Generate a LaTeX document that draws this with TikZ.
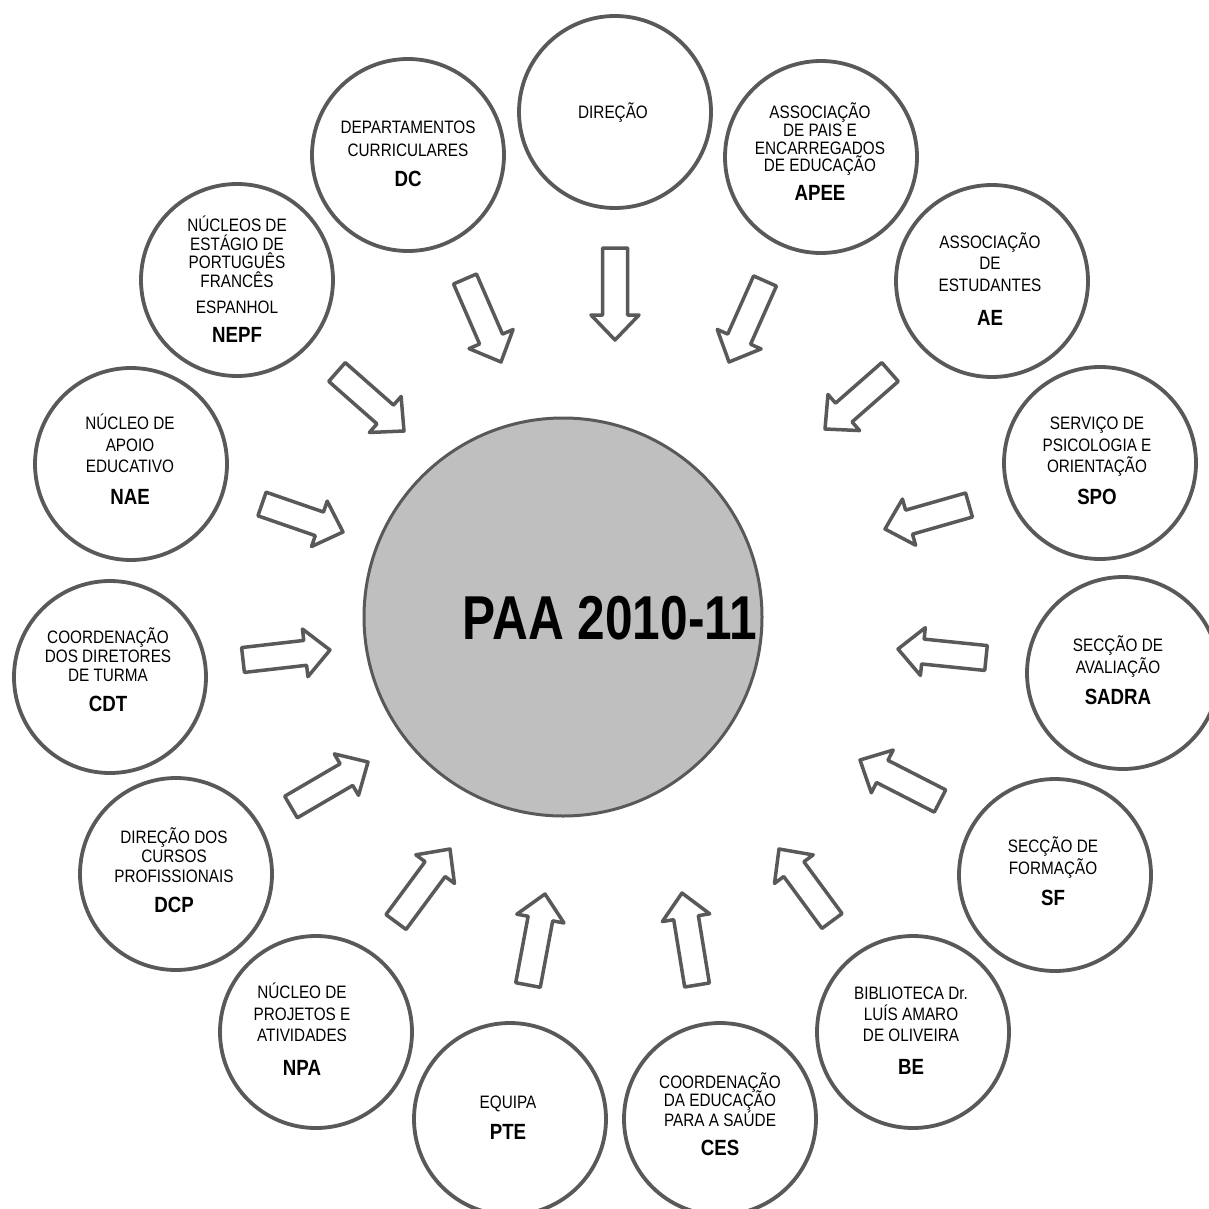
\documentclass[tikz,border=0pt]{standalone}
\usepackage{fontspec}
\setmainfont{Liberation Sans}
\newfontfamily\nf[FakeStretch=0.85]{Liberation Sans}
\newfontfamily\tf[FakeStretch=0.8]{Liberation Sans}
\usetikzlibrary{calc}
\definecolor{linegray}{HTML}{595959}
\definecolor{centergray}{HTML}{BFBFBF}
\tikzset{
  org/.style={circle, draw=linegray, line width=3.8pt, fill=white, minimum size=192pt, inner sep=0pt},
  ln/.style={font=\nf\fontsize{18}{18}\selectfont, inner sep=0pt, text height=12.9pt, text depth=0pt, anchor=center},
  ab/.style={font=\nf\bfseries\fontsize{22}{22}\selectfont, inner sep=0pt, text height=15.8pt, text depth=0pt, anchor=center},
  blk/.style={draw=linegray, line width=3.5pt, fill=white, line join=round}
}
\newcommand\blkarrow[2]{%
  \coordinate (#2n) at ($(#2)!25pt!(#1)$);
  \draw[blk] ($(#1)!12.5pt!90:(#2)$) -- ($(#2n)!12.5pt!90:(#2)$) -- ($(#2n)!24pt!90:(#2)$) -- (#2)
     -- ($(#2n)!24pt!-90:(#2)$) -- ($(#2n)!12.5pt!-90:(#2)$) -- ($(#1)!12.5pt!-90:(#2)$) -- cycle;}
\begin{document}
\begin{tikzpicture}[x=1pt,y=-1pt]
\useasboundingbox (0,0) rectangle (1209,1209);
\fill[white] (0,0) rectangle (1209,1209);
\clip (0,0) rectangle (1209,1209);

% central circle
\node[circle, draw=linegray, line width=3pt, fill=centergray, minimum size=398pt, inner sep=0pt] (paa) at (563,617) {};
\node[font=\tf\bfseries\fontsize{62}{62}\selectfont, inner sep=0pt, text height=44.5pt, text depth=0pt] (paaT) at (610,617) {PAA 2010-11};

% outer circles
\node[org] (dirC) at (615,112) {};
\node[org] (dcC) at (408,155) {};
\node[org] (apeeC) at (821,157) {};
\node[org] (aeC) at (992,281) {};
\node[org] (spoC) at (1100,463) {};
\node[org] (sadraC) at (1123,673) {};
\node[org] (sfC) at (1055,875) {};
\node[org] (beC) at (913,1032) {};
\node[org] (cesC) at (720,1119) {};
\node[org] (pteC) at (510,1119) {};
\node[org] (npaC) at (316,1032) {};
\node[org] (dcpC) at (176,874) {};
\node[org] (cdtC) at (110,677) {};
\node[org] (naeC) at (131,464) {};
\node[org] (nepfC) at (237,280) {};

% texts
\node[ln] (dir1) at (613,112) {DIREÇÃO};

\node[ln] (dc1) at (408,127) {DEPARTAMENTOS};
\node[ln] (dc2) at (408,150) {CURRICULARES};
\node[ab] (dcA) at (408,179) {DC};

\node[ln] (apee1) at (820,112) {ASSOCIAÇÃO};
\node[ln] (apee2) at (820,130) {DE PAIS E};
\node[ln] (apee3) at (820,148) {ENCARREGADOS};
\node[ln] (apee4) at (820,165) {DE EDUCAÇÃO};
\node[ab] (apeeA) at (820,193) {APEE};

\node[ln] (ae1) at (990,242) {ASSOCIAÇÃO};
\node[ln] (ae2) at (990,263) {DE};
\node[ln] (ae3) at (990,285) {ESTUDANTES};
\node[ab] (aeA) at (990,318) {AE};

\node[ln] (spo1) at (1097,423) {SERVIÇO DE};
\node[ln] (spo2) at (1097,445) {PSICOLOGIA E};
\node[ln] (spo3) at (1097,466) {ORIENTAÇÃO};
\node[ab] (spoA) at (1097,497) {SPO};

\node[ln] (sadra1) at (1118,645) {SECÇÃO DE};
\node[ln] (sadra2) at (1118,667) {AVALIAÇÃO};
\node[ab] (sadraA) at (1118,697) {SADRA};

\node[ln] (sf1) at (1053,846) {SECÇÃO DE};
\node[ln] (sf2) at (1053,868) {FORMAÇÃO};
\node[ab] (sfA) at (1053,898) {SF};

\node[ln] (be1) at (911,993) {BIBLIOTECA Dr.};
\node[ln] (be2) at (911,1014) {LUÍS AMARO};
\node[ln] (be3) at (911,1035) {DE OLIVEIRA};
\node[ab] (beA) at (911,1067) {BE};

\node[ln] (ces1) at (720,1082) {COORDENAÇÃO};
\node[ln] (ces2) at (720,1100) {DA EDUCAÇÃO};
\node[ln] (ces3) at (720,1120) {PARA A SAÚDE};
\node[ab] (cesA) at (720,1148) {CES};

\node[ln] (pte1) at (508,1102) {EQUIPA};
\node[ab] (pteA) at (508,1132) {PTE};

\node[ln] (npa1) at (302,992) {NÚCLEO DE};
\node[ln] (npa2) at (302,1014) {PROJETOS E};
\node[ln] (npa3) at (302,1035) {ATIVIDADES};
\node[ab] (npaA) at (302,1068) {NPA};

\node[ln] (dcp1) at (174,837) {DIREÇÃO DOS};
\node[ln] (dcp2) at (174,856) {CURSOS};
\node[ln] (dcp3) at (174,876) {PROFISSIONAIS};
\node[ab] (dcpA) at (174,905) {DCP};

\node[ln] (cdt1) at (108,637) {COORDENAÇÃO};
\node[ln] (cdt2) at (108,656) {DOS DIRETORES};
\node[ln] (cdt3) at (108,675) {DE TURMA};
\node[ab] (cdtA) at (108,704) {CDT};

\node[ln] (nae1) at (130,423) {NÚCLEO DE};
\node[ln] (nae2) at (130,445) {APOIO};
\node[ln] (nae3) at (130,466) {EDUCATIVO};
\node[ab] (naeA) at (130,497) {NAE};

\node[ln] (nepf1) at (237,225) {NÚCLEOS DE};
\node[ln] (nepf2) at (237,244) {ESTÁGIO DE};
\node[ln] (nepf3) at (237,262) {PORTUGUÊS};
\node[ln] (nepf4) at (237,281) {FRANCÊS};
\node[ln] (nepf5) at (237,307) {ESPANHOL};
\node[ab] (nepfA) at (237,335) {NEPF};

% arrow end points
\coordinate (dirT) at (615,248);   \coordinate (dirH) at (615,340);
\coordinate (dcT) at (465,279);    \coordinate (dcH) at (501,362);
\coordinate (apeeT) at (765,281);  \coordinate (apeeH) at (729,362);
\coordinate (aeT) at (890,372);    \coordinate (aeH) at (825,429);
\coordinate (spoT) at (969,505);   \coordinate (spoH) at (885,529);
\coordinate (sadraT) at (986,658); \coordinate (sadraH) at (898,649);
\coordinate (sfT) at (940,801);    \coordinate (sfH) at (860,760);
\coordinate (beT) at (832,921);    \coordinate (beH) at (779,849);
\coordinate (cesT) at (697,985);   \coordinate (cesH) at (682,893);
\coordinate (pteT) at (528,985);   \coordinate (pteH) at (545,894);
\coordinate (npaT) at (396,922);   \coordinate (npaH) at (450,849);
\coordinate (dcpT) at (291,807);   \coordinate (dcpH) at (368,762);
\coordinate (cdtT) at (243,660);   \coordinate (cdtH) at (330,650);
\coordinate (naeT) at (262,504);   \coordinate (naeH) at (343,532);
\coordinate (nepfT) at (337,372);  \coordinate (nepfH) at (404,431);

\blkarrow{dirT}{dirH}
\blkarrow{dcT}{dcH}
\blkarrow{apeeT}{apeeH}
\blkarrow{aeT}{aeH}
\blkarrow{spoT}{spoH}
\blkarrow{sadraT}{sadraH}
\blkarrow{sfT}{sfH}
\blkarrow{beT}{beH}
\blkarrow{cesT}{cesH}
\blkarrow{pteT}{pteH}
\blkarrow{npaT}{npaH}
\blkarrow{dcpT}{dcpH}
\blkarrow{cdtT}{cdtH}
\blkarrow{naeT}{naeH}
\blkarrow{nepfT}{nepfH}
\end{tikzpicture}
\end{document}
